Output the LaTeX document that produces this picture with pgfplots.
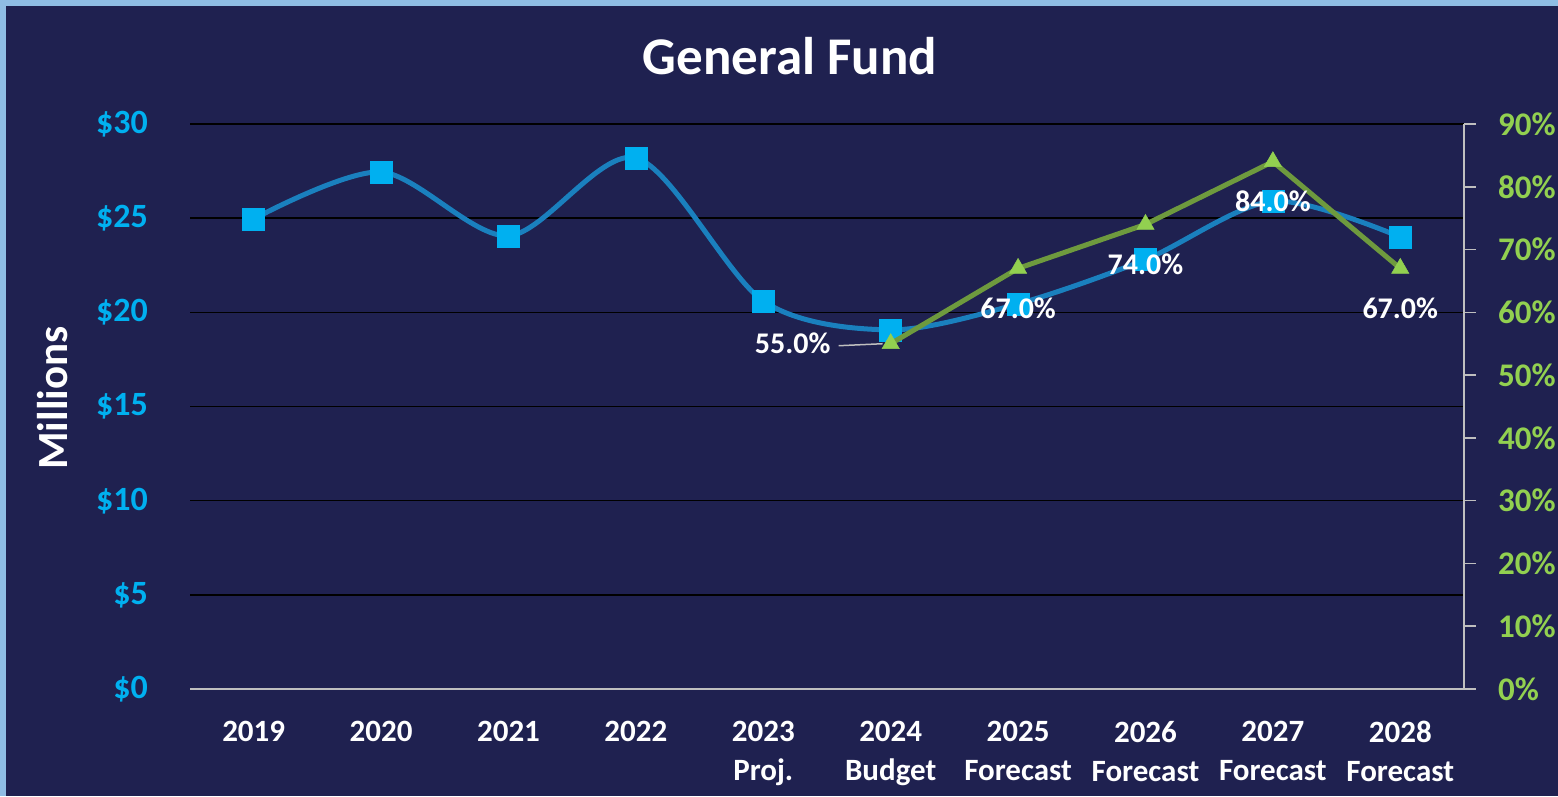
\documentclass[border=0pt]{standalone}
\usepackage{pgfplots}
\pgfplotsset{compat=1.18}
\usepackage{fontspec}
\setmainfont{Carlito}
\definecolor{navy}{HTML}{1F2150}
\definecolor{frame}{HTML}{8FBDE4}
\definecolor{bline}{HTML}{1A80BE}
\definecolor{bmark}{HTML}{00B0F0}
\definecolor{gline}{HTML}{6E9A3E}
\definecolor{gmark}{HTML}{92D050}
\definecolor{axgray}{HTML}{BFBFBF}
\begin{document}
\begin{tikzpicture}[x=1pt,y=1pt]
\fill[frame] (0,0) rectangle (1558,796);
\fill[navy] (6,0) rectangle (1558,790);
\useasboundingbox (0,0) rectangle (1558,796);
\node[text=white, font=\bfseries\fontsize{53}{62}\selectfont] at (790,740) {General Fund};
\node[text=white, rotate=90, font=\bfseries\fontsize{43}{50}\selectfont] at (53,398) {Millions};
\begin{axis}[
  at={(190pt,107pt)}, anchor=south west,
  scale only axis, width=1274pt, height=565pt,
  xmin=-0.5, xmax=9.5, ymin=0, ymax=30,
  axis x line*=bottom, axis y line*=left,
  x axis line style={draw=axgray, line width=1.5pt, -},
  y axis line style={draw=none},
  xtick={0,...,9},
  xticklabels={2019,2020,2021,2022,{2023\\Proj.},{2024\\Budget},{2025\\Forecast},{2026\\Forecast},{2027\\Forecast},{2028\\Forecast}},
  xtick style={draw=none}, ytick style={draw=none},
  xticklabel style={font=\bfseries\fontsize{31}{39}\selectfont, text=white, align=center, anchor=north, inner sep=0pt, yshift=-32pt},
  ytick={0,5,...,30},
  yticklabels={\$0,\$5,\$10,\$15,\$20,\$25,\$30},
  yticklabel style={font=\bfseries\fontsize{34}{38}\selectfont, text=bmark, anchor=east, inner sep=0pt, xshift=-42pt},
  ymajorgrids, major grid style={black, line width=1.5pt},
  clip=false,
]
\addplot[bline, line width=5pt, smooth, tension=0.5, mark=square*, mark size=11pt, mark options={solid, fill=bmark, draw=bmark, line width=0.5pt}]
coordinates {(0,24.96) (1,27.45) (2,24.06) (3,28.2) (4,20.6) (5,19.07) (6,20.45) (7,22.8) (8,25.9) (9,24.0)};
\end{axis}
\begin{axis}[
  at={(190pt,107pt)}, anchor=south west,
  scale only axis, width=1274pt, height=565pt,
  xmin=-0.5, xmax=9.5, ymin=0, ymax=90,
  axis x line=none, axis y line*=right,
  y axis line style={draw=axgray, line width=1.5pt, -},
  ytick={0,10,...,90},
  yticklabels={0\%,10\%,20\%,30\%,40\%,50\%,60\%,70\%,80\%,90\%},
  ytick style={draw=axgray, line width=1.5pt},
  tick align=outside, major tick length=12pt,
  yticklabel style={font=\bfseries\fontsize{33}{38}\selectfont, text=gmark, anchor=west, inner sep=0pt, xshift=22pt},
  clip=false,
]
\addplot[gline, line width=5pt, mark=triangle*, mark size=10pt, mark options={solid, fill=gmark, draw=gmark, line width=0.5pt},
  nodes near coords={\pgfmathprintnumber[fixed,fixed zerofill,precision=1,assume math mode=true]{\pgfplotspointmeta}\%},
  every node near coord/.append style={font=\bfseries\fontsize{30}{34}\selectfont, text=white, anchor=center, yshift=-40pt},
  coordinate style/.condition={\coordindex==0}{xshift=-98pt, yshift=40pt}]
coordinates {(5,55) (6,67) (7,74) (8,84) (9,67)};
\draw[axgray, line width=1.5pt] ([xshift=-8pt]axis cs:5,55) -- ([xshift=-52pt,yshift=-2pt]axis cs:5,55);
\end{axis}
\end{tikzpicture}
\end{document}
